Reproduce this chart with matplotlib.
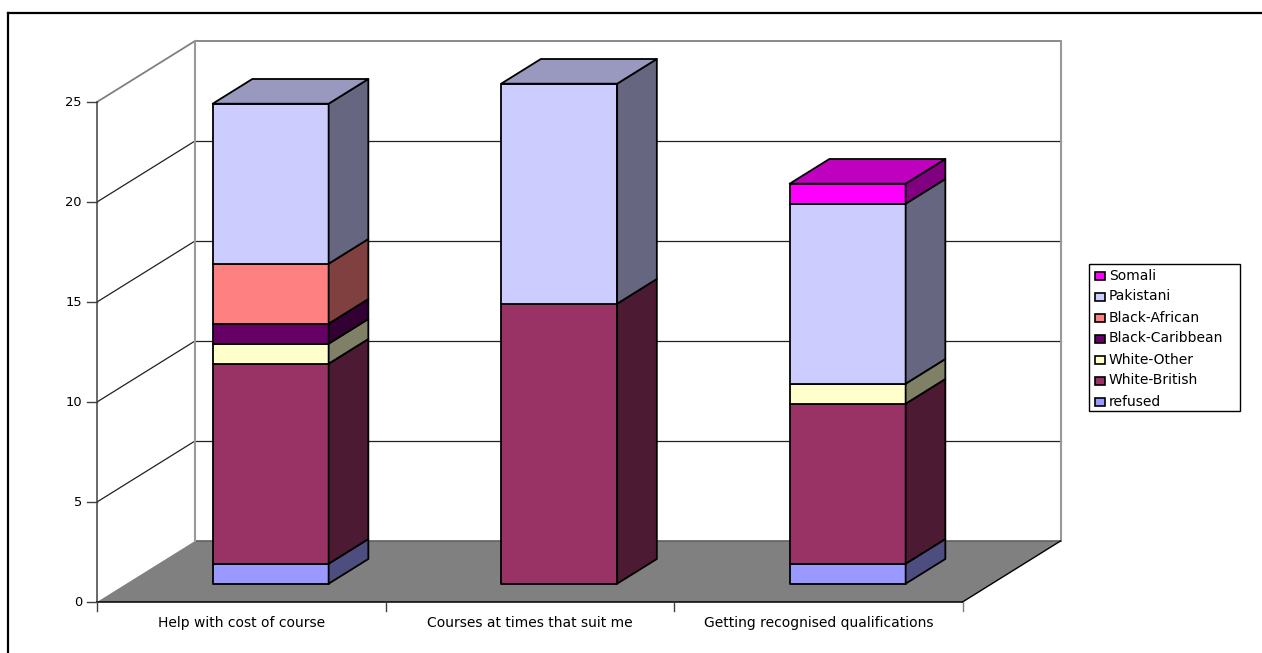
import matplotlib
matplotlib.use('Agg')
import matplotlib.pyplot as plt
from matplotlib.colors import to_rgb
from matplotlib.patches import Polygon, Rectangle

plt.rcParams['font.family'] = ['DejaVu Sans']

categories = ['Help with cost of course', 'Courses at times that suit me',
              'Getting recognised qualifications']
series = ['refused', 'White-British', 'White-Other', 'Black-Caribbean',
          'Black-African', 'Pakistani', 'Somali']
refused = [1, 0, 1]
white_british = [10, 14, 8]
white_other = [1, 0, 1]
black_caribbean = [1, 0, 0]
black_african = [3, 0, 0]
pakistani = [8, 11, 9]
somali = [0, 0, 1]
values = [refused, white_british, white_other, black_caribbean,
          black_african, pakistani, somali]
colors = ['#9999FF', '#993366', '#FFFFCC', '#660066', '#FF8080', '#CCCCFF', '#FF00FF']
yticks = [0, 5, 10, 15, 20, 25]

# oblique projection, pixels of the picture
X0, Y0 = 97.0, 602.0
CAT_W = 288.5
UNIT = 20.0
DX, DY = 98.0, -61.0
BAR_W = 0.402
DEPTH0, DEPTH1 = 0.30, 0.705


def pt(cat, val, depth=0.0):
    return (X0 + cat * CAT_W + depth * DX, Y0 - val * UNIT + depth * DY)


def shade(c, f):
    return tuple(v * f for v in to_rgb(c))


fig = plt.figure(figsize=(12.62, 6.53), dpi=100)
ax = fig.add_axes([0, 0, 1, 1])
ax.set_xlim(0, 1262)
ax.set_ylim(653, 0)
ax.axis('off')

# chart border, only top and left are inside the picture
ax.plot([8, 8], [653, 13], color='black', lw=1.6, zorder=0)
ax.plot([8, 1262], [13, 13], color='black', lw=1.6, zorder=0)

n = len(categories)
# floor
ax.add_patch(Polygon([pt(0, 0), pt(n, 0), pt(n, 0, 1), pt(0, 0, 1)], fc='#808080',
                     ec='none', zorder=1))

# gridlines on the walls
for v in yticks:
    c = '#808080' if v == 25 else '#202020'
    lw = 1.3 if v == 25 else 0.9
    if v > 0:
        ax.plot(*zip(pt(0, v), pt(0, v, 1)), color=c, lw=lw, zorder=2)
        ax.plot(*zip(pt(0, v, 1), pt(n, v, 1)), color=c, lw=lw, zorder=2)
    else:
        ax.plot(*zip(pt(0, v, 1), pt(n, v, 1)), color='#606060', lw=1.2, zorder=2)
ax.plot(*zip(pt(0, 0, 1), pt(0, 25, 1)), color='#999999', lw=1.5, zorder=2)
ax.plot(*zip(pt(n, 0, 1), pt(n, 25, 1)), color='#999999', lw=1.5, zorder=2)

# front axes
ax.plot(*zip(pt(0, 0), pt(0, 25)), color='#404040', lw=1.1, zorder=3)
ax.plot(*zip(pt(0, 0), pt(n, 0)), color='black', lw=1.1, zorder=3)
ax.plot(*zip(pt(n, 0), pt(n, 0, 1)), color='black', lw=1.0, zorder=3)
for v in yticks:
    x, y = pt(0, v)
    ax.plot([x - 10, x], [y, y], color='#404040', lw=1.0, zorder=3)
    ax.text(x - 15, y + 4, str(v), ha='right', va='baseline', fontsize=9.4, color='black')
for i in range(n + 1):
    x, y = pt(i, 0)
    ax.plot([x, x], [y, y + 9], color='#404040' if i < n else '#808080', lw=1.0, zorder=3)
for i, name in enumerate(categories):
    x, y = pt(i + 0.5, 0)
    ax.text(x, y + 25, name, ha='center', va='baseline', fontsize=10, color='black')

# stacked bars
z = 5
for i in range(n):
    left = i + 0.5 - BAR_W / 2
    right = i + 0.5 + BAR_W / 2
    base = 0
    total = sum(s[i] for s in values)
    for vals, col in zip(values, colors):
        v = vals[i]
        if v == 0:
            continue
        top = base + v
        kw = dict(ec='black', lw=1.3, joinstyle='round', zorder=z)
        ax.add_patch(Polygon([pt(left, base, DEPTH0), pt(right, base, DEPTH0),
                              pt(right, top, DEPTH0), pt(left, top, DEPTH0)], fc=col, **kw))
        ax.add_patch(Polygon([pt(right, base, DEPTH0), pt(right, base, DEPTH1),
                              pt(right, top, DEPTH1), pt(right, top, DEPTH0)],
                             fc=shade(col, 0.5), **kw))
        if top == total:
            ax.add_patch(Polygon([pt(left, top, DEPTH0), pt(right, top, DEPTH0),
                                  pt(right, top, DEPTH1), pt(left, top, DEPTH1)],
                                 fc=shade(col, 0.75), **kw))
        base = top
        z += 1

# legend box, top entry is the last series
ax.add_patch(Rectangle((1089, 264), 151, 147, fc='white', ec='black', lw=1.0, zorder=20))
for k, (name, col) in enumerate(zip(series[::-1], colors[::-1])):
    y = 275.5 + k * 21
    ax.add_patch(Rectangle((1095, y - 4), 10, 8, fc=col, ec='black', lw=1.2, zorder=21))
    ax.text(1109, y + 4, name, ha='left', va='baseline', fontsize=10, color='black', zorder=21)

fig.savefig('out.png', dpi=100)
